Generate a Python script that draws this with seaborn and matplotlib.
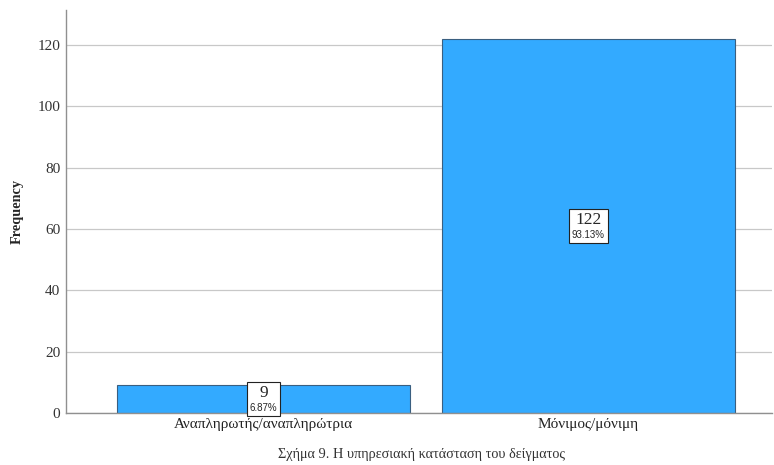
import pandas as pd
import matplotlib.pyplot as plt
import seaborn as sns
from matplotlib.offsetbox import TextArea, VPacker, AnnotationBbox

categories = ["Αναπληρωτής/αναπληρώτρια", "Μόνιμος/μόνιμη"]
counts = [9, 122]
caption = "Σχήμα 9. Η υπηρεσιακή κατάσταση του δείγματος"

df = pd.DataFrame({"status": categories, "freq": counts})
total = sum(counts)

sns.set_style("white")
plt.rcParams["font.family"] = ["Liberation Serif", "DejaVu Serif"]

fig = plt.figure(figsize=(7.74, 4.65), dpi=100)
ax = fig.add_axes([0.0853, 0.112, 0.912, 0.866])

sns.barplot(data=df, x="status", y="freq", color="#33aaff", saturation=1,
            width=0.9, edgecolor="#3a5f80", linewidth=0.8, ax=ax)

ax.set_xlim(-0.608, 1.565)
ax.set_ylim(0, 131.4)
ax.set_yticks(range(0, 121, 20))
ax.yaxis.grid(True, color="#c8c8c8", linewidth=0.9)
ax.set_axisbelow(True)
for s in ["top", "right"]:
    ax.spines[s].set_visible(False)
for s in ["left", "bottom"]:
    ax.spines[s].set_color("#909090")
    ax.spines[s].set_linewidth(1.0)
ax.tick_params(axis="y", length=0, labelsize=11, labelcolor="#333333", pad=4)
ax.tick_params(axis="x", length=0, labelsize=11, labelcolor="#222222", pad=4)
ax.set_xlabel("")
ax.set_ylabel("Frequency", fontsize=10.3, fontweight="bold", labelpad=10)

for i, c in enumerate(counts):
    pct = c / total * 100
    top = TextArea(str(c), textprops=dict(fontsize=12.5, family="Liberation Serif"))
    bot = TextArea(f"{pct:.2f}%", textprops=dict(fontsize=7, family="Liberation Sans"))
    pack = VPacker(children=[top, bot], align="center", pad=0, sep=1)
    ab = AnnotationBbox(pack, (i, c / 2), frameon=True, pad=0.22,
                        bboxprops=dict(edgecolor="#222222", linewidth=0.8, facecolor="white"))
    ax.add_artist(ab)

fig.text(0.544, 0.008, caption, ha="center", va="bottom", fontsize=10.3, color="#333333")

fig.savefig("out.png", dpi=100)
